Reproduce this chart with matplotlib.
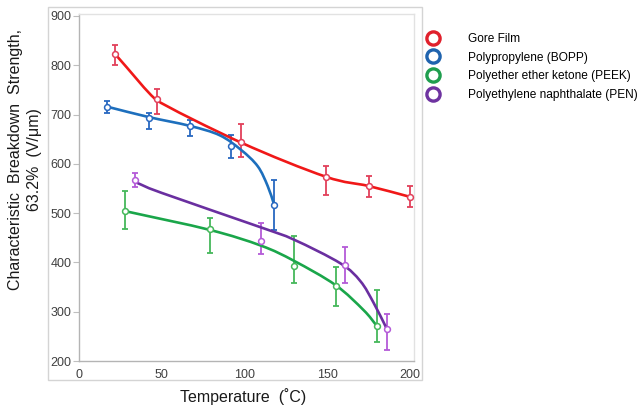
import numpy as np
import matplotlib
matplotlib.use("Agg")
import matplotlib.pyplot as plt
from matplotlib.path import Path
from matplotlib.patches import PathPatch, Rectangle
from matplotlib.lines import Line2D

plt.rcParams['font.family'] = ['Liberation Sans', 'DejaVu Sans']

# ---------------- data ----------------
series_names = ["Gore Film", "Polypropylene (BOPP)",
                "Polyether ether ketone (PEEK)", "Polyethylene naphthalate (PEN)"]

gore_T = [22, 47, 98, 149, 175, 200]
gore_v = [822, 731, 645, 574, 555, 533]
gore_lo = [21, 30, 31, 37, 22, 20]
gore_hi = [19, 21, 35, 22, 21, 22]
gore_curve_T = [22, 47, 98, 149, 175, 200]
gore_curve_v = [822, 729, 643, 574, 555, 533]

bopp_T = [17, 42, 67, 92, 118]
bopp_v = [716, 694, 677, 637, 516]
bopp_lo = [12, 24, 20, 25, 50]
bopp_hi = [12, 9, 12, 22, 52]
bopp_curve_T = [17, 42, 67, 85, 98, 108, 114, 118]
bopp_curve_v = [716, 695, 677, 658, 628, 595, 555, 516]

peek_T = [28, 79, 130, 155, 180]
peek_v = [504, 468, 393, 353, 271]
peek_lo = [36, 48, 34, 41, 32]
peek_hi = [40, 22, 61, 38, 73]
peek_curve_T = [28, 79, 110, 130, 155, 172, 180]
peek_curve_v = [504, 466, 434, 403, 354, 303, 271]

pen_T = [34, 110, 161, 186]
pen_v = [567, 443, 395, 265]
pen_lo = [13, 26, 36, 43]
pen_hi = [15, 37, 36, 30]
pen_curve_T = [34, 50, 110, 130, 158, 170, 178, 186]
pen_curve_v = [563, 541, 471, 446, 398, 362, 318, 265]

x_ticks = [0, 50, 100, 150, 200]
y_ticks = [200, 300, 400, 500, 600, 700, 800, 900]

# ---------------- styles ----------------
line_colors = ["#f01818", "#1d6fbd", "#1aa64a", "#6a2fa0"]
err_colors = ["#e2405a", "#2868c0", "#45b85a", "#b45ad8"]
legend_colors = ["#e0202c", "#1f63ae", "#1f9e4e", "#6e33a0"]
# per-node tangent divisor (larger = tighter bend at that node)
node_div = [
    [6, 16, 6, 6, 6, 6],
    [6] * 8,
    [6] * 7,
    [6] * 8,
]


def smooth_path(xs, ys, divs):
    """Catmull-Rom-like spline through the nodes as cubic Bezier segments."""
    pts = np.column_stack([xs, ys]).astype(float)
    n = len(pts)
    verts = [pts[0]]
    codes = [Path.MOVETO]
    for i in range(n - 1):
        p0 = pts[i - 1] if i > 0 else 2 * pts[i] - pts[i + 1]
        p1 = pts[i]
        p2 = pts[i + 1]
        p3 = pts[i + 2] if i + 2 < n else 2 * pts[i + 1] - pts[i]
        c1 = p1 + (p2 - p0) / divs[i]
        c2 = p2 - (p3 - p1) / divs[i + 1]
        verts += [c1, c2, p2]
        codes += [Path.CURVE4] * 3
    return Path(verts, codes)


fig = plt.figure(figsize=(6.41, 4.11), dpi=100)
W, H = 641, 411
ax = fig.add_axes([79 / W, 50 / H, 335 / W, 347 / H])
ax.set_xlim(0, 202.4)
ax.set_ylim(200, 904)

# outer frame
fig.add_artist(Rectangle((48 / W, 31 / H), 374 / W, 373 / H, transform=fig.transFigure,
                         fill=False, edgecolor="#d4d4d4", linewidth=1.0))

data = [
    (gore_T, gore_v, gore_lo, gore_hi, gore_curve_T, gore_curve_v),
    (bopp_T, bopp_v, bopp_lo, bopp_hi, bopp_curve_T, bopp_curve_v),
    (peek_T, peek_v, peek_lo, peek_hi, peek_curve_T, peek_curve_v),
    (pen_T, pen_v, pen_lo, pen_hi, pen_curve_T, pen_curve_v),
]

for k, (T, v, lo, hi, cT, cv) in enumerate(data):
    ax.errorbar(T, v, yerr=[lo, hi], fmt='none', ecolor=err_colors[k],
                elinewidth=1.3, capsize=2.5, capthick=1.3, zorder=2)
    ax.add_patch(PathPatch(smooth_path(cT, cv, node_div[k]), facecolor='none',
                           edgecolor=line_colors[k], linewidth=1.9, zorder=3))
    ax.plot(T, v, linestyle='none', marker='o', markersize=4.2,
            markerfacecolor='white', markeredgecolor=err_colors[k],
            markeredgewidth=1.1, zorder=4)

ax.set_xticks(x_ticks)
ax.set_yticks(y_ticks)
ax.tick_params(axis='both', labelsize=9, labelcolor="#404040", colors="#bfbfbf")
ax.tick_params(axis='x', length=0, pad=6)
ax.tick_params(axis='y', length=4, width=0.8, pad=1.5)
for t in ax.get_xticklabels() + ax.get_yticklabels():
    t.set_color("#404040")
for s in ['left', 'bottom']:
    ax.spines[s].set_color("#b4b4b4")
    ax.spines[s].set_linewidth(1.0)
for s in ['top', 'right']:
    ax.spines[s].set_color("#e2e2e2")
    ax.spines[s].set_linewidth(1.0)

fig.text(243 / W, 1 - 397 / H, "Temperature  (˚C)", ha='center', va='center',
         fontsize=11.5, color="#1a1a1a")
fig.text(25 / W, 1 - 160 / H, "Characteristic  Breakdown  Strength,\n63.2%  (V/μm)",
         ha='center', va='center', rotation=90, fontsize=11.5, color="#1a1a1a",
         linespacing=1.3)

handles = [Line2D([], [], linestyle='none', marker='o', markersize=9.5,
                  markerfacecolor='white', markeredgecolor=c, markeredgewidth=2.4)
           for c in legend_colors]
fig.legend(handles, series_names, loc='upper left',
           bbox_to_anchor=(427 / W, 1 - 33 / H), bbox_transform=fig.transFigure,
           frameon=False, fontsize=8.6, handlelength=1.0, handletextpad=2.4,
           labelspacing=0.55, borderaxespad=0, borderpad=0)

fig.savefig("out.png", dpi=100)
